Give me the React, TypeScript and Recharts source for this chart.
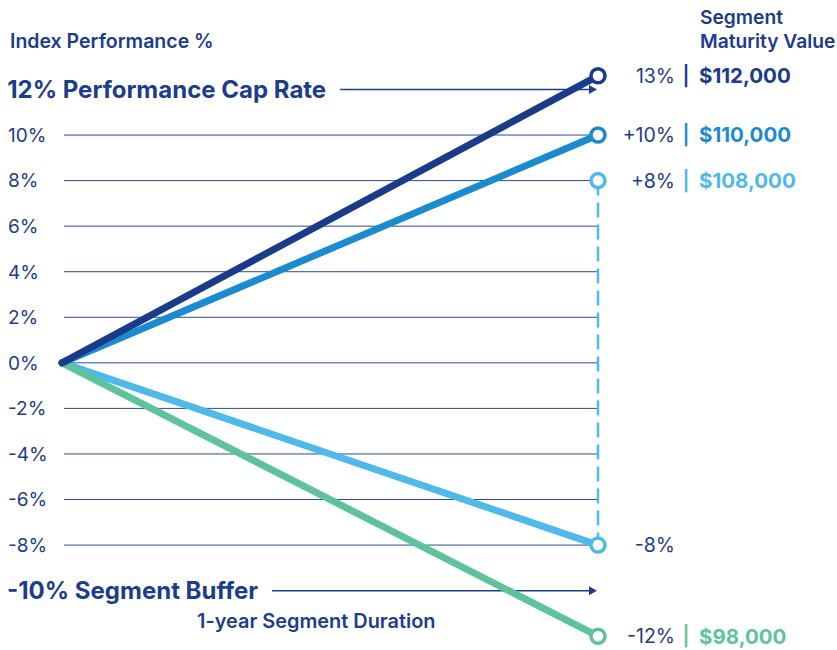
import React from "react";
import { ComposedChart, Line, XAxis, YAxis, ReferenceLine } from "recharts";

// ---- data ----
const timePoints = [0, 1]; // start and end of the 1-year segment
const capSeries = [0, 12.6]; // uncapped index (shown as 13%)
const creditedSeries = [0, 10];
const lowIndexSeries = [0, -8];
const lossSeries = [0, -12];
const bufferRange = [8, -8]; // protected range shown by the dashed line
const yTicks = [10, 8, 6, 4, 2, 0, -2, -4, -6, -8];
const capRate = 12;
const bufferLevel = -10;
const capArrowStart = 0.519;
const bufferArrowStart = 0.392;

const pctLabels = { cap: "13%", credited: "+10%", buffered: "+8%", low: "-8%", loss: "-12%" };
const valueLabels = { cap: "$112,000", credited: "$110,000", buffered: "$108,000", low: "", loss: "$98,000" };

const NAVY = "#1c3c8c";
const DARK = "#1a3a8a";
const MID = "#1b8bd0";
const LIGHT = "#4fb9ea";
const GREEN = "#5ec39b";
const FONT = "Inter, 'Noto Sans', sans-serif";

const mainData = timePoints.map((t, i) => ({
  t,
  cap: capSeries[i],
  credited: creditedSeries[i],
  low: lowIndexSeries[i],
  loss: lossSeries[i],
}));
const dashedData = bufferRange.map((v) => ({ t: timePoints[1], v }));

function makeDot(color: string, pct: string, value: string, showIndex: number) {
  return (props: any) => {
    const { cx, cy, index } = props;
    const k = `${pct}-${index}`;
    if (index !== showIndex || cx == null || cy == null) return <g key={k} />;
    return (
      <g key={k}>
        <circle cx={cx} cy={cy} r={7} fill="#fff" stroke={color} strokeWidth={3.5} />
        <text x={cx + 77} y={cy} dy="0.36em" textAnchor="end" fill={NAVY} fontSize={19.5} fontFamily={FONT}>
          {pct}
        </text>
        {value ? (
          <>
            <text x={cx + 88} y={cy} dy="0.36em" textAnchor="middle" fill={color} fontSize={19.5} fontWeight={600} fontFamily={FONT}>
              |
            </text>
            <text x={cx + 101} y={cy} dy="0.36em" textAnchor="start" fill={color} fontSize={20.5} fontWeight={700} fontFamily={FONT}>
              {value}
            </text>
          </>
        ) : null}
      </g>
    );
  };
}

function arrowShape(label: string) {
  return (props: any) => {
    const { x1, y1, x2, y2 } = props;
    if (x1 == null) return <g />;
    return (
      <g>
        <line x1={x1} y1={y1} x2={x2 - 6} y2={y2} stroke={NAVY} strokeWidth={1.5} />
        <polygon points={`${x2 - 1},${y2} ${x2 - 9},${y2 - 4.5} ${x2 - 9},${y2 + 4.5}`} fill={NAVY} />
        <text x={x1 - 14} y={y1} dy="0.36em" textAnchor="end" fill={NAVY} fontSize={24} fontWeight={700} fontFamily={FONT}>
          {label}
        </text>
      </g>
    );
  };
}

const gridShape = (props: any) => {
  const { x1, y1, x2, y2 } = props;
  if (x1 == null) return <g />;
  return <line x1={x1 + 2} y1={y1} x2={x2} y2={y2} stroke="#2b4a96" strokeWidth={1} />;
};

const YTick = (props: any) => {
  const { y, payload } = props;
  return (
    <text x={8} y={y} dy="0.36em" textAnchor="start" fill={NAVY} fontSize={19} fontFamily={FONT}>
      {`${payload.value}%`}
    </text>
  );
};

export default function App() {
  return (
    <div style={{ position: "absolute", left: 0, top: 0, width: 837, height: 650, background: "#fff", fontFamily: FONT }}>
      <div style={{ position: "absolute", left: 10, top: 29, fontSize: 19.5, fontWeight: 600, color: NAVY, whiteSpace: "nowrap" }}>
        Index Performance %
      </div>
      <div style={{ position: "absolute", left: 700, top: 5, fontSize: 19.2, fontWeight: 600, color: NAVY, lineHeight: "24px", whiteSpace: "nowrap" }}>
        Segment
        <br />
        Maturity Value
      </div>
      <div style={{ position: "absolute", left: 197, top: 609, fontSize: 19.9, fontWeight: 600, color: NAVY, whiteSpace: "nowrap" }}>
        1-year Segment Duration
      </div>
      <ComposedChart
        width={837}
        height={650}
        data={mainData}
        margin={{ top: 66.7, right: 239, bottom: 13.8, left: 0 }}
        style={{ position: "absolute", left: 0, top: 0, overflow: "visible" }}
      >
        <XAxis dataKey="t" type="number" domain={[0, 1]} hide />
        <YAxis
          type="number"
          domain={[-12, 13]}
          ticks={yTicks}
          width={62}
          axisLine={false}
          tickLine={false}
          tick={<YTick />}
          interval={0}
        />
        {yTicks.map((v) => (
          <ReferenceLine key={`g${v}`} y={v} ifOverflow="visible" shape={gridShape} />
        ))}
        <ReferenceLine
          segment={[{ x: capArrowStart, y: capRate }, { x: 1, y: capRate }]}
          ifOverflow="visible"
          shape={arrowShape(`${capRate}% Performance Cap Rate`)}
        />
        <ReferenceLine
          segment={[{ x: bufferArrowStart, y: bufferLevel }, { x: 1, y: bufferLevel }]}
          ifOverflow="visible"
          shape={arrowShape(`${bufferLevel}% Segment Buffer`)}
        />
        <Line
          data={dashedData}
          dataKey="v"
          stroke={LIGHT}
          strokeWidth={2.5}
          strokeDasharray="15 7"
          isAnimationActive={false}
          dot={makeDot(LIGHT, pctLabels.buffered, valueLabels.buffered, 0)}
          activeDot={false}
        />
        <Line
          dataKey="low"
          stroke={LIGHT}
          strokeWidth={7}
          strokeLinecap="round"
          isAnimationActive={false}
          dot={makeDot(LIGHT, pctLabels.low, valueLabels.low, 1)}
          activeDot={false}
        />
        <Line
          dataKey="loss"
          stroke={GREEN}
          strokeWidth={7}
          strokeLinecap="round"
          isAnimationActive={false}
          dot={makeDot(GREEN, pctLabels.loss, valueLabels.loss, 1)}
          activeDot={false}
        />
        <Line
          dataKey="credited"
          stroke={MID}
          strokeWidth={7}
          strokeLinecap="round"
          isAnimationActive={false}
          dot={makeDot(MID, pctLabels.credited, valueLabels.credited, 1)}
          activeDot={false}
        />
        <Line
          dataKey="cap"
          stroke={DARK}
          strokeWidth={7}
          strokeLinecap="round"
          isAnimationActive={false}
          dot={makeDot(DARK, pctLabels.cap, valueLabels.cap, 1)}
          activeDot={false}
        />
      </ComposedChart>
    </div>
  );
}
